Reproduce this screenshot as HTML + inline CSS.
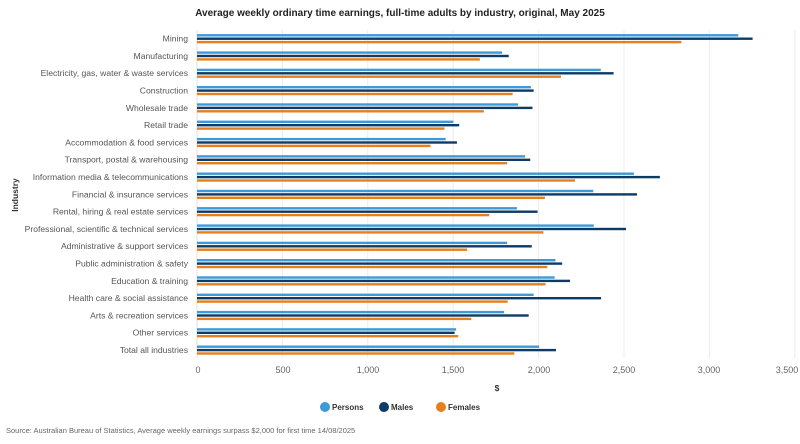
<!DOCTYPE html>
<html><head><meta charset="utf-8"><style>
body{margin:0;background:#fff;}
svg{display:block;font-family:"Liberation Sans",sans-serif;}
</style></head><body>
<svg width="800" height="444" xmlns="http://www.w3.org/2000/svg">
<text x="400" y="16" text-anchor="middle" font-size="10" font-weight="bold" fill="#222">Average weekly ordinary time earnings, full-time adults by industry, original, May 2025</text>
<g stroke="#ececec" stroke-width="1">
<line x1="282.4" y1="30" x2="282.4" y2="358"/><line x1="367.8" y1="30" x2="367.8" y2="358"/><line x1="453.2" y1="30" x2="453.2" y2="358"/><line x1="538.6" y1="30" x2="538.6" y2="358"/><line x1="624" y1="30" x2="624" y2="358"/><line x1="709.4" y1="30" x2="709.4" y2="358"/><line x1="794.8" y1="30" x2="794.8" y2="358"/>
</g>
<line x1="197" y1="30" x2="197" y2="358" stroke="#e0e0e0"/>
<g id="bars"></g>
<g font-size="9" fill="#666" text-anchor="middle">
<text x="198" y="373">0</text><text x="283" y="373">500</text><text x="368" y="373">1,000</text><text x="453" y="373">1,500</text><text x="539" y="373">2,000</text><text x="624" y="373">2,500</text><text x="709" y="373">3,000</text><text x="787" y="373">3,500</text>
</g>
<text x="497" y="391" font-size="8.5" font-weight="bold" fill="#333" text-anchor="middle">$</text>
<text transform="translate(18,195) rotate(-90)" font-size="8.5" font-weight="bold" fill="#333" text-anchor="middle">Industry</text>
<g font-size="8" fill="#333" font-weight="bold">
<circle cx="325" cy="407" r="5" fill="#3d9ad8"/><text x="332" y="410">Persons</text>
<circle cx="384" cy="407" r="5" fill="#0e3b66"/><text x="391" y="410">Males</text>
<circle cx="441" cy="407" r="5" fill="#e6801e"/><text x="448" y="410">Females</text>
</g>
<text x="6" y="433" font-size="7.5" fill="#666">Source: Australian Bureau of Statistics, Average weekly earnings surpass $2,000 for first time 14/08/2025</text>
<g id="labels" font-size="8.6" fill="#555" text-anchor="end"></g>
</svg>
<script>
var d=[["Mining",3169,3253,2836],["Manufacturing",1786,1825,1656],["Electricity, gas, water & waste services",2364,2439,2131],["Construction",1955,1971,1848],["Wholesale trade",1880,1964,1679],["Retail trade",1501,1535,1449],["Accommodation & food services",1456,1522,1367],["Transport, postal & warehousing",1921,1951,1816],["Information media & telecommunications",2558,2710,2213],["Financial & insurance services",2320,2576,2037],["Rental, hiring & real estate services",1873,1994,1711],["Professional, scientific & technical services",2323,2512,2028],["Administrative & support services",1816,1960,1581],["Public administration & safety",2099,2138,2051],["Education & training",2094,2184,2041],["Health care & social assistance",1971,2366,1819],["Arts & recreation services",1798,1942,1606],["Other services",1517,1508,1529],["Total all industries",2003,2102,1858]];
var ns="http://www.w3.org/2000/svg",b=document.getElementById("bars"),l=document.getElementById("labels");
var cols=["#3d9ad8","#0e3b66","#e6801e"],k=0.17080;
d.forEach(function(r,i){var c=38.6+17.3*i;
var t=document.createElementNS(ns,"text");t.setAttribute("x",188);t.setAttribute("y",c+3);t.textContent=r[0];l.appendChild(t);
for(var j=0;j<3;j++){var e=document.createElementNS(ns,"rect");e.setAttribute("x",197);e.setAttribute("y",c-4.5+j*3.4);e.setAttribute("width",r[j+1]*k);e.setAttribute("height",2.4);e.setAttribute("fill",cols[j]);b.appendChild(e);}
});
</script>
</body></html>
